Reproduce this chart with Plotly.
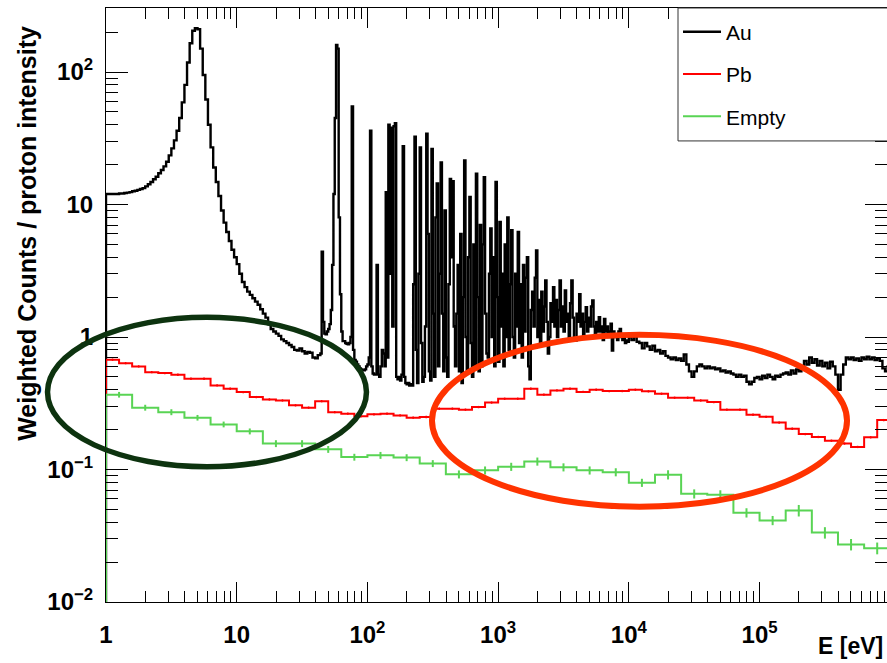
import numpy as np
import plotly.graph_objects as go

# ---------------- data ----------------
# Au target: fine binning (0.02 decade up to 10^1.64 eV, 0.01 decade up to 10^4 eV, 0.02 decade above)
au_low = [
    12.0, 12.0, 12.0, 12.0, 12.0, 12.1, 12.1, 12.2, 12.3, 12.4,
    12.6, 12.7, 12.9, 13.1, 13.3, 13.7, 14.2, 14.8, 15.5, 16.2,
    17.2, 18.2, 19.4, 21.0, 23.5, 26.5, 30.5, 36.0, 45.0, 59.0,
    80.0, 118, 165, 205, 214, 210, 150, 95.0, 62.0, 40.0,
    27.0, 19.0, 14.8, 11.6, 9.0, 7.3, 6.2, 5.3, 4.55, 4.0,
    3.55, 3.0, 2.6, 2.38, 2.2, 2.08, 1.96, 1.85, 1.75, 1.62,
    1.50, 1.40, 1.25, 1.15, 1.10, 1.06, 1.02, 0.96, 0.93, 0.90,
    0.87, 0.84, 0.80, 0.79, 0.82, 0.78, 0.75, 0.77, 0.76, 0.70,
    0.69, 0.73,
]
au_res = [
    0.75, 4.4, 1.3, 1.06, 1.05, 1.10, 1.15, 1.25, 1.6, 3.5,
    12.0, 45.0, 160, 150, 8.0, 2.1, 1.1, 0.93, 0.93, 0.90,
    0.89, 0.88, 0.90, 1.0, 55.0, 0.8, 0.67, 0.65, 0.62, 0.60,
    0.58, 0.57, 0.56, 0.56, 0.57, 0.60, 0.62, 0.70, 36.0, 0.6,
    0.53, 0.52, 0.52, 3.5, 0.52, 0.50, 0.6, 0.8, 0.75, 0.6,
    12.4, 0.7, 40.0, 3.0, 38.0, 1.2, 39.0, 41.0, 0.5, 0.48,
    0.5, 0.47, 0.52, 27.6, 0.5, 0.45, 0.44, 0.45, 0.43, 0.44,
    0.43, 2.5, 32.5, 0.8, 0.45, 3.0, 27.0, 0.9, 0.46, 0.5,
    1.2, 34.2, 6.0, 0.55, 0.47, 26.3, 1.5, 0.5, 8.0, 14.4,
    0.6, 3.0, 20.8, 1.5, 0.55, 9.0, 0.7, 0.5, 2.5, 15.6,
    4.0, 15.0, 1.2, 0.6, 1.5, 3.5, 0.55, 6.0, 0.45, 2.0,
    21.5, 1.0, 0.55, 4.0, 11.4, 0.9, 0.5, 5.0, 0.6, 17.1,
    2.0, 0.55, 7.0, 0.6, 5.0, 16.1, 1.5, 0.75, 0.7, 3.0,
    6.6, 1.0, 4.0, 0.6, 14.8, 2.0, 0.65, 7.4, 1.2, 3.0,
    0.6, 5.0, 1.0, 8.0, 0.8, 2.5, 6.4, 1.0, 0.7, 3.0,
    1.2, 6.2, 0.9, 2.5, 0.7, 3.5, 1.1, 2.8, 4.0, 0.6,
    0.48, 1.6, 2.2, 1.2, 2.8, 4.5, 1.0, 1.9, 0.9, 2.2,
    1.1, 1.7, 2.67, 1.3, 0.75, 1.0, 1.8, 1.3, 2.38, 1.2,
    1.9, 1.0, 1.6, 2.67, 1.2, 1.7, 1.1, 2.25, 1.3, 1.5,
    1.0, 1.8, 2.67, 1.4, 0.95, 0.94, 1.5, 1.3, 2.1, 1.2,
    1.5, 1.0, 1.3, 1.68, 1.1, 1.4, 1.2, 1.7, 1.89, 1.2,
    1.0, 1.3, 1.1, 1.41, 1.1, 1.2, 0.95, 1.37, 1.1, 1.2,
    1.0, 1.1, 1.26, 0.79, 1.1, 1.0, 1.05, 0.95, 1.1, 1.15,
    1.0, 0.95, 1.0, 0.9, 0.94, 0.92,
]
au_high = [
    1.0, 0.95, 1.05, 0.92, 0.90, 0.82, 0.90, 0.85, 0.80, 0.86,
    0.78, 0.80, 0.75, 0.78, 0.72, 0.70, 0.68, 0.70, 0.67, 0.69,
    0.66, 0.74, 0.62, 0.55, 0.50, 0.55, 0.60, 0.62, 0.60, 0.58,
    0.60, 0.58, 0.59, 0.57, 0.58, 0.55, 0.56, 0.54, 0.55, 0.53,
    0.52, 0.50, 0.52, 0.50, 0.51, 0.46, 0.44, 0.46, 0.49, 0.50,
    0.48, 0.51, 0.49, 0.52, 0.50, 0.48, 0.51, 0.50, 0.52, 0.53,
    0.54, 0.52, 0.56, 0.53, 0.57, 0.55, 0.58, 0.66, 0.62, 0.70,
    0.64, 0.68, 0.61, 0.66, 0.60, 0.64, 0.58, 0.65, 0.60, 0.52,
    0.40, 0.52, 0.62, 0.70, 0.68, 0.70, 0.67, 0.69, 0.66, 0.70,
    0.68, 0.71, 0.68, 0.70, 0.67, 0.69, 0.66, 0.58, 0.55, 0.60,
]

# Pb target: 10 bins per decade, 1 eV .. 1 MeV
pb_counts = [
    0.674, 0.635, 0.600, 0.543, 0.534, 0.519, 0.484, 0.484, 0.431, 0.407,
    0.384, 0.352, 0.338, 0.332, 0.305, 0.293, 0.328, 0.271, 0.264, 0.252,
    0.261, 0.264, 0.256, 0.246, 0.249, 0.288, 0.288, 0.283, 0.296, 0.320,
    0.342, 0.342, 0.407, 0.367, 0.395, 0.407, 0.385, 0.400, 0.391, 0.391,
    0.400, 0.389, 0.373, 0.348, 0.348, 0.332, 0.323, 0.283, 0.283, 0.259,
    0.250, 0.226, 0.203, 0.185, 0.176, 0.165, 0.157, 0.148, 0.175, 0.236,
]

# Empty target: 5 bins per decade, with statistical errors
empty_counts = [
    0.367, 0.293, 0.271, 0.246, 0.219, 0.194, 0.157, 0.157, 0.142, 0.124,
    0.128, 0.123, 0.111, 0.092, 0.0985, 0.105, 0.115, 0.104, 0.0985, 0.0955,
    0.0795, 0.0914, 0.0656, 0.0645, 0.0472, 0.0413, 0.0491, 0.0334, 0.0272, 0.0255,
]
empty_err = [
    0.018, 0.015, 0.014, 0.012, 0.011, 0.010, 0.0094, 0.0094, 0.0085, 0.0074,
    0.0077, 0.0074, 0.0067, 0.0064, 0.0069, 0.0074, 0.0081, 0.0073, 0.0069, 0.0067,
    0.0056, 0.0073, 0.0052, 0.0052, 0.0038, 0.0033, 0.0049, 0.0033, 0.0027, 0.0026,
]

x_log_range = [0.0, 5.975]
y_log_range = [-2.0, 2.483]

# ---------------- binning ----------------
au_edges = np.concatenate([
    np.logspace(0.0, 1.64, 83)[:-1],
    np.logspace(1.64, 4.0, 237)[:-1],
    np.logspace(4.0, 6.0, 101),
])
au_counts = au_low + au_res + au_high
assert len(au_edges) == len(au_counts) + 1, (len(au_edges), len(au_counts))
pb_edges = np.logspace(0, 6, len(pb_counts) + 1)
empty_edges = np.logspace(0, 6, len(empty_counts) + 1)
empty_centres = np.sqrt(empty_edges[:-1] * empty_edges[1:])
pb_centres = np.sqrt(pb_edges[:-1] * pb_edges[1:])

floor = 10 ** y_log_range[0]


def outline(edges, counts):
    """Histogram outline: rises from the frame floor at the first edge."""
    x = np.concatenate([[edges[0]], edges])
    y = np.concatenate([[floor], counts, [counts[-1]]])
    return x, y


BLACK = "#000000"
RED = "#ff0000"
GREEN = "#59d454"
FONT = "Liberation Sans"

fig = go.Figure()

x, y = outline(au_edges, au_counts)
fig.add_trace(go.Scatter(x=x, y=y, mode="lines", line=dict(color=BLACK, width=2.4, shape="hv"),
                         name="Au", legendgroup="au"))

x, y = outline(pb_edges, pb_counts)
fig.add_trace(go.Scatter(x=x, y=y, mode="lines", line=dict(color=RED, width=2, shape="hv"),
                         name="Pb", legendgroup="pb"))
fig.add_trace(go.Scatter(x=pb_centres, y=pb_counts, mode="markers", marker=dict(size=1, color=RED),
                         error_y=dict(type="percent", value=2, color=RED, thickness=1.5, width=0),
                         showlegend=False, legendgroup="pb", hoverinfo="skip"))

x, y = outline(empty_edges, empty_counts)
fig.add_trace(go.Scatter(x=x, y=y, mode="lines", line=dict(color=GREEN, width=2, shape="hv"),
                         name="Empty", legendgroup="empty"))
fig.add_trace(go.Scatter(x=empty_centres, y=empty_counts, mode="markers", marker=dict(size=1, color=GREEN),
                         error_y=dict(type="data", array=empty_err, color=GREEN, thickness=2, width=0),
                         showlegend=False, legendgroup="empty", hoverinfo="skip"))

axis_common = dict(
    type="log", dtick=1, exponentformat="power",
    showline=True, linecolor=BLACK, linewidth=1, mirror="allticks",
    ticks="inside", tickcolor=BLACK, tickwidth=1,
    showgrid=False, zeroline=False,
    tickfont=dict(family=FONT, size=19.2, color=BLACK, weight="bold"),
)

fig.update_layout(
    width=887, height=663,
    margin=dict(l=106, r=0, t=8, b=61),
    paper_bgcolor="white", plot_bgcolor="white",
    xaxis=dict(range=x_log_range, ticklen=20, ticklabelstandoff=12,
               minor=dict(ticks="inside", dtick="D1", ticklen=11, tickcolor=BLACK,
                          tickwidth=1, showgrid=False),
               **axis_common),
    yaxis=dict(range=y_log_range, ticklen=22, ticklabelstandoff=8,
               minor=dict(ticks="inside", dtick="D1", ticklen=12, tickcolor=BLACK,
                          tickwidth=1, showgrid=False),
               **axis_common),
    showlegend=True,
    legend=dict(x=0.7324, y=0.994, xanchor="left", yanchor="top",
                bgcolor="rgba(0,0,0,0)", borderwidth=0, tracegroupgap=12,
                itemwidth=38, font=dict(family=FONT, size=21, color=BLACK)),
)

# Legend frame
fig.add_shape(type="rect", xref="paper", yref="paper", x0=0.7324, x1=1.02, y0=0.7762, y1=1.0,
              line=dict(color="#333333", width=1), fillcolor="white", layer="above")

# Highlight rings
fig.add_shape(type="circle", xref="paper", yref="paper", x0=-0.0749, x1=0.3335, y0=0.2277, y1=0.4792,
              line=dict(color="#0d330f", width=5.5), fillcolor="rgba(0,0,0,0)", layer="above")
fig.add_shape(type="circle", xref="paper", yref="paper", x0=0.4174, x1=0.9488, y0=0.1604, y1=0.4498,
              line=dict(color="#ff3300", width=6), fillcolor="rgba(0,0,0,0)", layer="above")

# Axis titles
fig.add_annotation(text="Weighted Counts / proton intensity", xref="paper", yref="paper",
                   x=-0.1012, y=0.6214, xanchor="center", yanchor="middle", textangle=-90,
                   showarrow=False, font=dict(family=FONT, size=25, color=BLACK, weight="bold"))
fig.add_annotation(text="E [eV]", xref="paper", yref="paper",
                   x=0.997, y=-0.0745, xanchor="right", yanchor="middle",
                   showarrow=False, font=dict(family=FONT, size=23, color=BLACK, weight="bold"))

fig.write_html("out.html")
